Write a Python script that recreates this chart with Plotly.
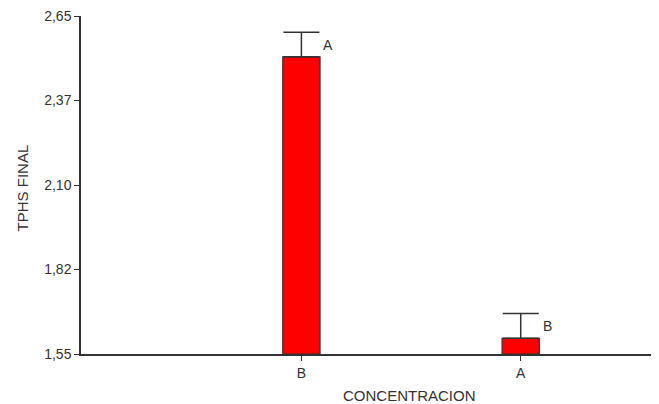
import plotly.graph_objects as go

categories = ["B", "A"]
means = [2.517, 1.601]
errors = [0.080, 0.081]
letters = ["A", "B"]
ytick_vals = [1.55, 1.825, 2.10, 2.375, 2.65]
ytick_text = ["1,55", "1,82", "2,10", "2,37", "2,65"]

xpos = list(range(len(categories)))

fig = go.Figure()
fig.add_trace(go.Bar(
    x=xpos, y=[m - 1.55 for m in means], base=1.55,
    width=0.17,
    marker=dict(color="#ff0000", line=dict(color="#333333", width=1.2)),
    error_y=dict(type="data", symmetric=False, array=errors,
                 arrayminus=[0] * len(errors), color="#333333",
                 thickness=1.5, width=18),
    hoverinfo="skip",
))

for x, m, e, t in zip(xpos, means, errors, letters):
    fig.add_annotation(x=x, y=m + e / 2, text=t, showarrow=False,
                       xshift=27, xanchor="center", yanchor="middle",
                       font=dict(size=14, color="#333333"))

fig.add_annotation(x=0.561, y=0, xref="paper", yref="paper", yshift=-41,
                   xanchor="center", yanchor="middle",
                   text="CONCENTRACION", showarrow=False,
                   font=dict(size=15, color="#333333"))
fig.add_annotation(x=0, y=0.49, xref="paper", yref="paper", xshift=-59,
                   xanchor="center", yanchor="middle",
                   text="TPHS FINAL", showarrow=False, textangle=-90,
                   font=dict(size=15, color="#333333"))

fig.update_layout(
    width=659, height=404,
    margin=dict(l=73, r=0, t=8, b=58, autoexpand=False),
    plot_bgcolor="white", paper_bgcolor="white",
    showlegend=False,
    font=dict(family="Liberation Sans, Arial, sans-serif", size=14, color="#333333"),
)
fig.update_xaxes(
    range=[-1.005, 1.667], tickvals=xpos, ticktext=categories,
    showline=True, linecolor="#333333", linewidth=1.5,
    ticks="outside", ticklen=5, tickcolor="#333333",
    showgrid=False, zeroline=False, automargin=False,
    ticklabeloverflow="allow",
)
fig.update_yaxes(
    range=[1.55, 2.65], tickvals=ytick_vals, ticktext=ytick_text,
    showline=True, linecolor="#333333", linewidth=1.5,
    ticks="outside", ticklen=5, tickcolor="#333333",
    showgrid=False, zeroline=False, automargin=False,
    ticklabeloverflow="allow",
)

fig.write_html("out.html")
